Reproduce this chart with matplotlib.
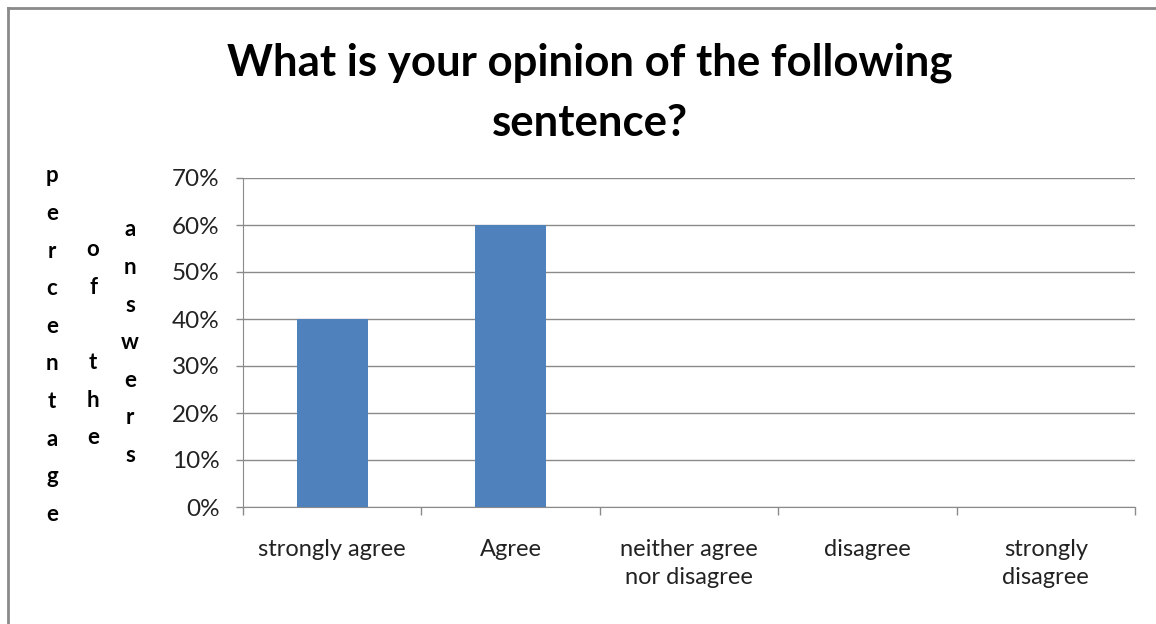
import matplotlib
matplotlib.use('Agg')
import matplotlib.pyplot as plt
from matplotlib.lines import Line2D

# survey answers (share of respondents)
categories = ['strongly agree', 'Agree', 'neither agree\nnor disagree', 'disagree', 'strongly\ndisagree']
shares = [0.40, 0.60, 0.0, 0.0, 0.0]
y_ticks = [0.0, 0.1, 0.2, 0.3, 0.4, 0.5, 0.6, 0.7]
y_tick_labels = ['0%', '10%', '20%', '30%', '40%', '50%', '60%', '70%']
title = 'What is your opinion of the following\nsentence?'
y_label_words = ['percentage', 'of the', 'answers']

plt.rcParams['font.family'] = ['Lato', 'DejaVu Sans']

W, H = 1156, 624
fig = plt.figure(figsize=(W / 100, H / 100), dpi=100, facecolor='white')

# plot area in pixels
left, right, top, bottom = 243, 1135, 178, 507
ax = fig.add_axes([left / W, 1 - bottom / H, (right - left) / W, (bottom - top) / H])

x = list(range(len(categories)))
ax.bar(x, shares, width=0.4, color='#4F81BD', zorder=3)
ax.set_xlim(-0.5, len(categories) - 0.5)
ax.set_ylim(0, 0.7)

grey = '#8a8a8a'
ax.set_yticks(y_ticks)
ax.set_yticklabels(y_tick_labels, fontsize=17.5, color='#222222')
ax.yaxis.grid(True, color=grey, linewidth=1.0, zorder=0)
ax.tick_params(axis='y', length=5, width=1, color=grey, pad=12)

# category ticks sit between the bars
ax.set_xticks([i - 0.5 for i in range(len(categories) + 1)])
ax.set_xticklabels([])
ax.tick_params(axis='x', length=6, width=1, color=grey, direction='out')
for i, lab in enumerate(categories):
    ax.annotate(lab, xy=(i, 0), xycoords=('data', 'axes fraction'),
                xytext=(0, -23), textcoords='offset points',
                ha='center', va='top', fontsize=17, color='#222222',
                linespacing=1.42)

for side in ['top', 'right']:
    ax.spines[side].set_visible(False)
ax.spines['left'].set_color(grey)
ax.spines['bottom'].set_color(grey)

fig.text(590 / W, 1 - 93 / H, title, ha='center', va='center', fontsize=31.5,
         fontweight='bold', linespacing=1.62, color='black')

# y label drawn as stacked letters, one column per word
col_x = [52, 93, 130]
col_y0 = [176, 250, 230]
step = 37.6
for cx, y0, word in zip(col_x, col_y0, y_label_words):
    for k, ch in enumerate(word):
        if ch == ' ':
            continue
        fig.text(cx / W, 1 - (y0 + k * step) / H, ch, ha='center', va='center',
                 fontsize=16, fontweight='bold', color='black')

# chart frame
fig.add_artist(Line2D([8 / W, 8 / W], [0, 1 - 8 / H], transform=fig.transFigure,
                      color=grey, linewidth=2))
fig.add_artist(Line2D([8 / W, 1], [1 - 8 / H, 1 - 8 / H], transform=fig.transFigure,
                      color=grey, linewidth=2))

fig.savefig('out.png', dpi=100, facecolor='white')
